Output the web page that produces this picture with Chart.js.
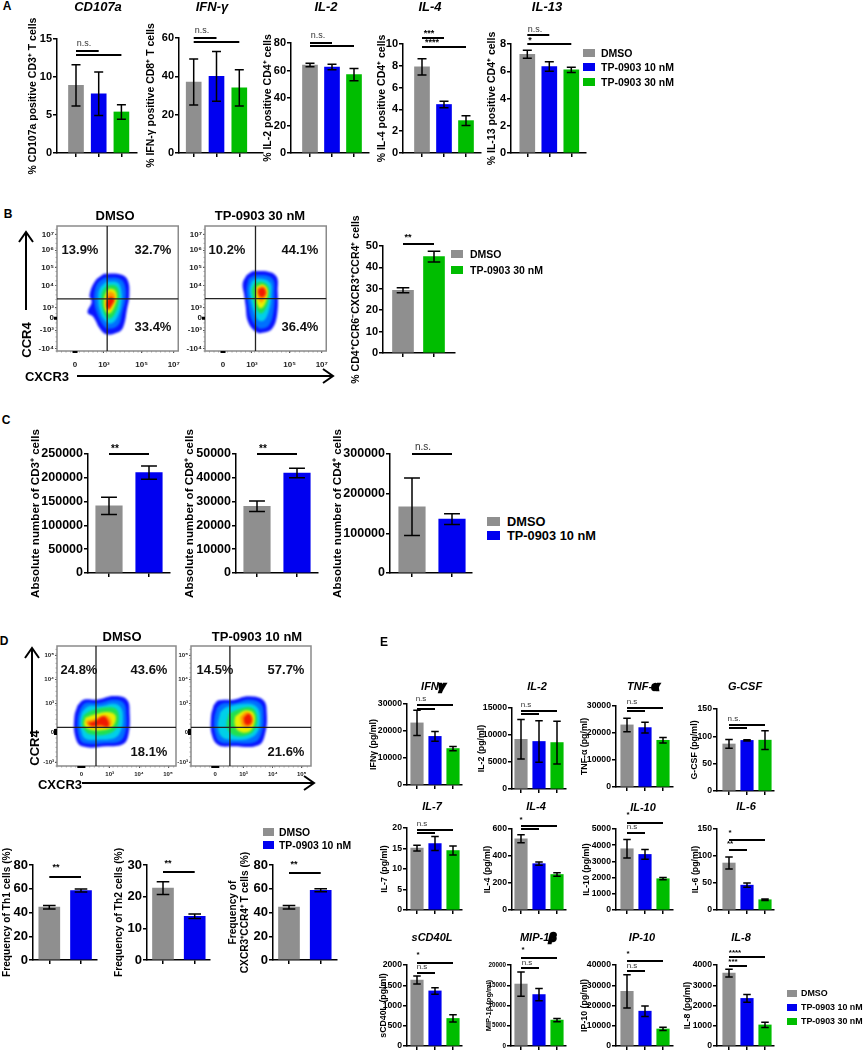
<!DOCTYPE html>
<html>
<head>
<meta charset="utf-8">
<title>TP-0903 panels</title>
<script src="https://cdn.jsdelivr.net/npm/chart.js@4"></script>
<style>
html, body { margin: 0; background: #fff; }
#stage { position: relative; width: 863px; height: 1050px; overflow: hidden; font-family: "Liberation Sans", Arial, sans-serif; color: #000; }
#stage canvas { position: absolute; }
.t { position: absolute; transform: translate(-50%, -50%); white-space: nowrap; font-weight: bold; }
.l { position: absolute; transform: translateY(-50%); white-space: nowrap; font-weight: bold; }
.sq { position: absolute; }
.blob { -webkit-text-stroke: 2.5px #000; }
svg { position: absolute; left: 0; top: 0; }
</style>
</head>
<body>
<div id="stage"></div>
<script>
/* ── Colours and group names ───────────────────────────────────────── */
const GRAY = '#8f8f8f', BLUE = '#0000f0', GREEN = '#00bd00';
const threeColors = [GRAY, BLUE, GREEN];
const tenColors = [GRAY, BLUE];
const thirtyColors = [GRAY, GREEN];
const threeGroups = ['DMSO', 'TP-0903 10 nM', 'TP-0903 30 nM'];
const tenGroups = ['DMSO', 'TP-0903 10 nM'];
const thirtyGroups = ['DMSO', 'TP-0903 30 nM'];

/* ── Panel A values ────────────────────────────────────────────────── */
const cd107aMeans = [8.9, 7.8, 5.4],   cd107aErrors = [2.7, 2.85, 0.95];
const ifnAMeans = [37, 40, 34],        ifnAErrors = [12, 13, 9.5];
const il2AMeans = [64, 62.5, 57],      il2AErrors = [1.2, 2, 4.5];
const il4AMeans = [7.9, 4.45, 2.97],   il4AErrors = [0.75, 0.3, 0.45];
const il13AMeans = [7.25, 6.35, 6.1],  il13AErrors = [0.3, 0.35, 0.2];

/* ── Panel B values ────────────────────────────────────────────────── */
const ccr4BMeans = [29.3, 45],         ccr4BErrors = [1.2, 2.5];

/* ── Panel C values ────────────────────────────────────────────────── */
const cd3Means = [141000, 211000],     cd3Errors = [18000, 14000];
const cd8Means = [28000, 42000],       cd8Errors = [2200, 2000];
const cd4Means = [167000, 136000],     cd4Errors = [72500, 13500];

/* ── Panel D values ────────────────────────────────────────────────── */
const th1Means = [44.5, 58.5],         th1Errors = [1.5, 1.3];
const th2Means = [22.7, 13.8],         th2Errors = [2, 0.7];
const cxcr3Means = [44.5, 58.7],       cxcr3Errors = [1.5, 1.3];

/* ── Panel E values ────────────────────────────────────────────────── */
const ifnEMeans = [23000, 18000, 13500],   ifnEErrors = [4700, 1800, 800];
const il2EMeans = [9200, 8800, 8600],      il2EErrors = [3650, 3850, 3950];
const tnfMeans = [23000, 22000, 17300],    tnfErrors = [2500, 2000, 1000];
const gcsfMeans = [86, 92.5, 93],          gcsfErrors = [8, 1.2, 17];
const il7Means = [15.1, 16.2, 14.5],       il7Errors = [0.7, 1.7, 1.1];
const il4EMeans = [528, 343, 263],         il4EErrors = [30, 12, 13];
const il10Means = [3780, 3430, 1930],      il10Errors = [570, 300, 70];
const il6Means = [87, 46, 19],             il6Errors = [11, 4, 1.5];
const cd40Means = [1630, 1360, 680],       cd40Errors = [100, 80, 90];
const mipMeans = [15300, 12700, 6400],     mipErrors = [3000, 1500, 400];
const ip10Means = [27000, 17200, 8400],    ip10Errors = [8200, 2600, 800];
const il8Means = [3600, 2350, 1040],       il8Errors = [190, 190, 130];

/* ── Flow plots: axis ticks (instrument channels) ──────────────────── */
const flowBXTicks = [56, 146, 263, 363];
const flowBXLabels = ['0', '10³', '10⁵', '10⁷'];
const flowBYTicks = [349, 302, 249, 195, 130, 98, 62, 7];
const flowBYLabels = ['10⁷', '10⁶', '10⁵', '10⁴', '10³', '0', '-10³', '-10⁴'];
const flowDXTicks = [73, 158, 246, 333];
const flowDXLabels = ['0', '10³', '10⁴', '10⁵'];
const flowDYTicks = [332, 260, 188, 102, 12];
const flowDYLabels = ['10⁵', '10⁴', '10³', '0', '-10³'];

/* density levels, outermost first */
const densityColors = ['#0a14ff', '#0070ff', '#00d0e8', '#20e050', '#e8f000', '#ff9a00', '#f01800'];

const flowB1 = [
  [[146,231],[198,229],[220,212],[225,167],[218,127],[206,72],[188,55],[153,50],[133,67],[113,102],[95,115],[108,147],[101,167],[118,209]],
  [[148,219],[193,217],[210,199],[213,157],[203,117],[190,77],[158,67],[140,82],[123,117],[116,147],[118,182],[128,205]],
  [[153,207],[188,205],[200,182],[200,142],[188,102],[168,82],[148,92],[133,122],[128,157],[133,187]],
  [[158,197],[183,195],[193,172],[190,137],[173,102],[156,99],[143,122],[138,157],[143,182]],
  [[163,187],[180,182],[186,162],[178,132],[163,112],[150,122],[146,152],[153,175]],
  [[163,179],[178,172],[180,155],[170,132],[158,122],[152,142],[154,167]],
  [[166,162],[178,155],[173,142],[160,125],[154,137],[158,155]]
];
const flowB2 = [
  [[129,227],[154,239],[219,227],[226,177],[224,107],[209,67],[184,55],[159,57],[134,87],[126,137],[122,167],[117,202]],
  [[136,217],[159,227],[209,217],[216,172],[212,112],[199,77],[179,67],[162,72],[144,97],[134,142],[129,182]],
  [[146,209],[164,217],[202,205],[206,167],[199,122],[184,92],[166,92],[152,117],[142,157],[139,187]],
  [[154,202],[174,207],[196,195],[199,162],[189,127],[174,112],[159,127],[149,162],[146,182]],
  [[159,192],[179,199],[194,185],[192,157],[181,132],[169,129],[159,157]],
  [[162,187],[179,195],[191,179],[186,157],[174,145],[164,162]],
  [[166,185],[181,189],[189,175],[182,162],[172,162],[166,172]]
];
const flowD1 = [
  [[62,182],[80,199],[120,199],[170,210],[210,199],[218,157],[215,97],[200,67],[150,59],[75,59],[55,87],[52,147]],
  [[70,172],[85,189],[125,189],[170,199],[200,189],[208,152],[205,102],[190,75],[150,69],[80,69],[65,92],[62,142]],
  [[75,162],[95,179],[130,179],[170,187],[192,175],[198,142],[192,107],[175,85],[130,79],[85,82],[72,107],[70,137]],
  [[80,152],[105,167],[170,175],[185,157],[180,117],[155,97],[100,95],[80,112],[75,132]],
  [[85,145],[115,155],[150,162],[175,152],[170,122],[145,109],[100,109],[82,122]],
  [[85,135],[115,142],[145,152],[162,139],[160,119],[130,115],[98,117]],
  [[92,129],[115,135],[140,149],[155,132],[152,117],[130,122],[105,120]]
];
const flowD2 = [
  [[68,182],[83,197],[128,199],[173,209],[218,197],[228,157],[223,97],[203,62],[128,59],[83,62],[63,92],[60,147]],
  [[78,175],[93,187],[133,189],[173,199],[210,187],[218,152],[213,102],[193,72],[128,69],[88,72],[73,97],[70,142]],
  [[88,162],[108,177],[173,187],[200,175],[208,142],[200,102],[173,82],[123,79],[93,87],[81,117]],
  [[113,157],[148,172],[183,175],[198,152],[193,112],[168,92],[128,92],[108,117]],
  [[133,149],[163,167],[188,159],[190,127],[173,102],[143,105],[131,127]],
  [[148,147],[166,162],[183,152],[185,129],[170,115],[153,122]],
  [[158,145],[173,157],[183,142],[178,125],[163,125]]
];

const FONT = '"Liberation Sans", Arial, sans-serif';
const stage = document.getElementById('stage');

function addText(cls, text, x, y, size, extra) {
  const el = document.createElement('div');
  el.className = cls;
  el.innerHTML = text;
  el.style.left = x + 'px';
  el.style.top = y + 'px';
  el.style.fontSize = size + 'px';
  if (extra) el.style.cssText += extra;
  stage.appendChild(el);
}

function addCanvas(left, top, w, h) {
  const c = document.createElement('canvas');
  c.width = w; c.height = h;
  c.style.left = left + 'px';
  c.style.top = top + 'px';
  c.style.width = w + 'px';
  c.style.height = h + 'px';
  stage.appendChild(c);
  return c;
}

/* ── Small bar panel ───────────────────────────────────────────────── */
function barPanel(p) {
  const titleLines = Array.isArray(p.title) ? p.title.length : 1;
  const lh = p.titleSize * 1.2;
  const left = Math.round(p.titleX - titleLines * lh / 2);
  const topPad = 50, bottomPad = 50;
  const top = p.top - topPad;
  const w = p.x1 - left + 2;
  const h = p.bot - top + bottomPad;
  const cv = addCanvas(left, top, w, h);
  const colors = p.means.length === 3 ? threeColors : (p.green ? thirtyColors : tenColors);

  const marks = {
    id: 'marks',
    afterDatasetsDraw(chart) {
      const { ctx, scales: { x, y } } = chart;
      ctx.save();
      ctx.strokeStyle = '#000';
      ctx.lineWidth = 1.5;
      const cap = p.bw * 0.3;
      p.means.forEach((m, i) => {
        const px = x.getPixelForValue(i);
        const hi = y.getPixelForValue(m + p.errs[i]);
        const lo = y.getPixelForValue(m - p.errs[i]);
        ctx.beginPath();
        ctx.moveTo(px, hi); ctx.lineTo(px, lo);
        ctx.moveTo(px - cap, hi); ctx.lineTo(px + cap, hi);
        ctx.moveTo(px - cap, lo); ctx.lineTo(px + cap, lo);
        ctx.stroke();
      });
      ctx.lineWidth = 2;
      (p.lines || []).forEach(([a, b, py]) => {
        ctx.beginPath();
        ctx.moveTo(x.getPixelForValue(a), py - top);
        ctx.lineTo(x.getPixelForValue(b), py - top);
        ctx.stroke();
      });
      ctx.textAlign = 'center';
      ctx.textBaseline = 'middle';
      (p.marks || []).forEach(([s, mx, my]) => {
        const stars = s.indexOf('*') >= 0;
        ctx.fillStyle = stars ? '#000' : '#333';
        ctx.font = (stars ? 'bold ' : '') + (p.markSize || 9) + 'px ' + FONT;
        ctx.fillText(s, mx - left, my - top);
      });
      ctx.restore();
    }
  };

  new Chart(cv.getContext('2d'), {
    type: 'bar',
    data: {
      datasets: [{
        data: p.means.map((v, i) => ({ x: i, y: v })),
        backgroundColor: colors,
        barThickness: p.bw
      }]
    },
    plugins: [marks],
    options: {
      responsive: false,
      animation: false,
      devicePixelRatio: 1,
      layout: { autoPadding: false, padding: { top: topPad, right: w - (p.x1 - left), left: 0, bottom: 0 } },
      plugins: { legend: { display: false }, tooltip: { enabled: false } },
      scales: {
        x: {
          type: 'linear',
          offset: false,
          min: -(p.c0 - p.x0) / p.sp,
          max: (p.x1 - p.c0) / p.sp,
          afterFit: s => { s.height = bottomPad; },
          afterBuildTicks: s => { s.ticks = p.means.map((_, i) => ({ value: i })); },
          grid: { offset: false, drawOnChartArea: false, color: '#000', lineWidth: 1.5, tickLength: 4 },
          border: { color: '#000', width: 1.5 },
          ticks: { display: false, autoSkip: false }
        },
        y: {
          min: 0,
          max: p.max,
          afterFit: s => { s.width = p.x0 - left; },
          grid: { drawOnChartArea: false, color: '#000', lineWidth: 1.5, tickLength: 4 },
          border: { color: '#000', width: 1.5 },
          ticks: { stepSize: p.step, color: '#000', padding: 1, callback: v => String(v), font: { family: FONT, weight: 'bold', size: p.tickSize } },
          title: { display: true, text: p.title, color: '#000', padding: 0, font: { family: FONT, weight: 'bold', size: p.titleSize } }
        }
      }
    }
  });
}

/* ── Flow cytometry density plot ───────────────────────────────────── */
function flowPanel(f) {
  const left = f.x0 - 24, top = f.y0 - 6;
  const w = f.x1 - left + 4, h = f.y1 - top + f.below;
  const cv = addCanvas(left, top, w, h);

  const overlay = {
    id: 'overlay',
    beforeDatasetsDraw(chart) { chart.ctx.filter = 'blur(1px)'; },
    afterDatasetsDraw(chart) {
      const { ctx, chartArea: a, scales: { x, y } } = chart;
      ctx.filter = 'none';
      ctx.save();
      ctx.strokeStyle = '#8a8a8a';
      ctx.lineWidth = 1.5;
      ctx.strokeRect(a.left, a.top, a.right - a.left, a.bottom - a.top);

      // comb of minor ticks along the bottom and left edges
      ctx.lineWidth = 0.8;
      ctx.beginPath();
      for (let v = 0; v <= f.xMax; v += 14) {
        const px = x.getPixelForValue(v);
        ctx.moveTo(px, a.bottom); ctx.lineTo(px, a.bottom + 1.5);
      }
      for (let v = 0; v <= f.yMax; v += 14) {
        const py = y.getPixelForValue(v);
        ctx.moveTo(a.left, py); ctx.lineTo(a.left - 1.5, py);
      }
      ctx.stroke();

      // events piled up on the zero channels
      ctx.fillStyle = '#000';
      const zeroX = x.getPixelForValue(f.xTicks[0]);
      const zeroY = y.getPixelForValue(f.yTicks[f.yLabels.indexOf('0')]);
      ctx.fillRect(a.left - 3, zeroY - f.pile, 3, f.pile * 2);
      ctx.fillRect(zeroX - f.pile - 1, a.bottom, f.pile * 2 + 2, 2);

      ctx.strokeStyle = '#222';
      ctx.lineWidth = 1.3;
      ctx.beginPath();
      ctx.moveTo(x.getPixelForValue(f.gateX), a.top);
      ctx.lineTo(x.getPixelForValue(f.gateX), a.bottom);
      ctx.moveTo(a.left, y.getPixelForValue(f.gateY));
      ctx.lineTo(a.right, y.getPixelForValue(f.gateY));
      ctx.stroke();
      ctx.fillStyle = '#111';
      ctx.font = 'bold 13px ' + FONT;
      ctx.textAlign = 'center';
      ctx.textBaseline = 'middle';
      f.pct.forEach(([s, mx, my]) => ctx.fillText(s, mx - left, my - top));
      ctx.restore();
    }
  };

  new Chart(cv.getContext('2d'), {
    type: 'scatter',
    data: {
      datasets: f.levels.map((pts, i) => ({
        data: pts.concat([pts[0]]).map(([x, y]) => ({ x, y })),
        showLine: true,
        fill: 'shape',
        tension: 0.4,
        pointRadius: 0,
        borderWidth: 0,
        backgroundColor: densityColors[i],
        borderColor: densityColors[i],
        order: -i
      }))
    },
    plugins: [overlay],
    options: {
      indexAxis: 'y',
      responsive: false,
      animation: false,
      devicePixelRatio: 1,
      layout: { autoPadding: false, padding: { top: 6, right: 4, left: 0, bottom: 0 } },
      plugins: { legend: { display: false }, tooltip: { enabled: false } },
      scales: {
        x: {
          type: 'linear', min: 0, max: f.xMax,
          afterFit: s => { s.height = f.below; },
          afterBuildTicks: s => { s.ticks = f.xTicks.map(v => ({ value: v })); },
          grid: { drawOnChartArea: false, color: '#555', lineWidth: 1, tickLength: 2 },
          border: { display: false },
          ticks: { autoSkip: false, maxRotation: 0, padding: f.pad, color: '#222', callback: (v, i) => f.xLabels[i], font: { family: FONT, weight: 'bold', size: f.tick } }
        },
        y: {
          type: 'linear', min: 0, max: f.yMax,
          afterFit: s => { s.width = 24; },
          afterBuildTicks: s => { s.ticks = f.yTicks.map(v => ({ value: v })); },
          grid: { drawOnChartArea: false, color: '#555', lineWidth: 1, tickLength: 2 },
          border: { display: false },
          ticks: { autoSkip: false, padding: 1, color: '#222', callback: (v, i) => f.yLabels[i], font: { family: FONT, weight: 'bold', size: f.tick } }
        }
      }
    }
  });
}

/* ── Panel A ───────────────────────────────────────────────────────── */
const aBase = { titleSize: 10.5, tickSize: 11, bw: 15, bot: 153, markSize: 9 };
barPanel({ ...aBase, title: '% CD107a positive CD3⁺ T cells', titleX: 33, means: cd107aMeans, errs: cd107aErrors, x0: 57, x1: 137, top: 39, c0: 76, sp: 22.7, max: 15, step: 5,
  lines: [[0, 1, 51], [0, 2, 55]], marks: [['n.s.', 84, 44]] });
barPanel({ ...aBase, title: '% IFN-γ positive CD8⁺ T cells', titleX: 151, means: ifnAMeans, errs: ifnAErrors, x0: 179, x1: 263, top: 38, c0: 193.7, sp: 22.8, max: 60, step: 20,
  lines: [[0, 1, 38], [0, 2, 42]], marks: [['n.s.', 202, 31]] });
barPanel({ ...aBase, title: '% IL-2 positive CD4⁺ cells', titleX: 268, means: il2AMeans, errs: il2AErrors, x0: 291, x1: 369, top: 43, c0: 310, sp: 22, max: 80, step: 20,
  lines: [[0, 1, 43], [0, 2, 46]], marks: [['n.s.', 318, 36]] });
barPanel({ ...aBase, title: '% IL-4 positive CD4⁺ cells', titleX: 382, means: il4AMeans, errs: il4AErrors, x0: 403, x1: 481, top: 44, c0: 422, sp: 22, max: 10, step: 2,
  lines: [[0, 1, 38], [0, 2, 47]], marks: [['***', 429, 34], ['****', 432, 43]] });
barPanel({ ...aBase, title: '% IL-13 positive CD4⁺ cells', titleX: 492, means: il13AMeans, errs: il13AErrors, x0: 511, x1: 586, top: 44, c0: 527.3, sp: 22, max: 8, step: 2,
  lines: [[0, 1, 35], [0, 2, 44]], marks: [['n.s.', 535, 30], ['*', 530, 41]] });

/* ── Panel B bar ───────────────────────────────────────────────────── */
barPanel({ title: '% CD4⁺CCR6⁻CXCR3⁺CCR4⁺ cells', titleX: 356, titleSize: 10.5, tickSize: 11, green: true, means: ccr4BMeans, errs: ccr4BErrors, x0: 383, x1: 455, top: 246, bot: 353, c0: 403, sp: 31, bw: 21, max: 50, step: 10,
  lines: [[0, 1, 244]], marks: [['**', 408, 238]] });

/* ── Panel C ───────────────────────────────────────────────────────── */
const cBase = { titleSize: 11.6, tickSize: 12.5, bw: 26.5, top: 454, bot: 573, sp: 40, markSize: 10 };
barPanel({ ...cBase, title: 'Absolute number of CD3⁺ cells', titleX: 36, means: cd3Means, errs: cd3Errors, x0: 88, x1: 170, c0: 109, max: 250000, step: 50000,
  lines: [[0, 1, 454]], marks: [['**', 115, 449]] });
barPanel({ ...cBase, title: 'Absolute number of CD8⁺ cells', titleX: 190, means: cd8Means, errs: cd8Errors, x0: 236, x1: 318, c0: 257, max: 50000, step: 10000,
  lines: [[0, 1, 454]], marks: [['**', 263, 449]] });
barPanel({ ...cBase, title: 'Absolute number of CD4⁺ cells', titleX: 338, means: cd4Means, errs: cd4Errors, x0: 390, x1: 472, c0: 412, max: 300000, step: 100000,
  lines: [[0, 1, 454]], marks: [['n.s.', 423, 447]] });

/* ── Panel D bars ──────────────────────────────────────────────────── */
const dBase = { titleSize: 10.2, tickSize: 13, bw: 21, top: 865, bot: 960, sp: 31.7, markSize: 9 };
barPanel({ ...dBase, title: 'Frequency of Th1 cells (%)', titleX: 7, means: th1Means, errs: th1Errors, x0: 33, x1: 97, c0: 49.3, max: 80, step: 20,
  lines: [[0, 1, 877]], marks: [['**', 56, 868]] });
barPanel({ ...dBase, title: 'Frequency of Th2 cells (%)', titleX: 119, means: th2Means, errs: th2Errors, x0: 147, x1: 210, c0: 163, max: 30, step: 10,
  lines: [[0, 1, 872]], marks: [['**', 168, 864]] });
barPanel({ ...dBase, title: ['Frequency of', 'CXCR3⁺CCR4⁺ T cells (%)'], titleX: 239, means: cxcr3Means, errs: cxcr3Errors, x0: 273, x1: 337, c0: 289, max: 80, step: 20,
  lines: [[0, 1, 873]], marks: [['**', 294, 865]] });

/* ── Panel E ───────────────────────────────────────────────────────── */
const eBase = { titleSize: 8.8, tickSize: 8.7, bw: 12.5, sp: 18, markSize: 8 };
barPanel({ ...eBase, title: 'IFNγ (pg/ml)', titleX: 373, means: ifnEMeans, errs: ifnEErrors, x0: 407, x1: 462, top: 704, bot: 785, c0: 417, max: 30000, step: 10000,
  lines: [[0, 2, 705], [0, 1, 709]], marks: [['n.s', 421, 699]] });
barPanel({ ...eBase, title: 'IL-2 (pg/ml)', titleX: 481, means: il2EMeans, errs: il2EErrors, x0: 512, x1: 566, top: 708, bot: 789, c0: 521, max: 15000, step: 5000,
  lines: [[0, 2, 711], [0, 1, 714]], marks: [['n.s', 526, 705]] });
barPanel({ ...eBase, title: 'TNF-α (pg/ml)', titleX: 584, means: tnfMeans, errs: tnfErrors, x0: 616, x1: 673, top: 706, bot: 787, c0: 627, max: 30000, step: 10000,
  lines: [[0, 2, 708], [0, 1, 711]], marks: [['n.s', 632, 702]] });
barPanel({ ...eBase, title: 'G-CSF (pg/ml)', titleX: 694, means: gcsfMeans, errs: gcsfErrors, x0: 717, x1: 774, top: 709, bot: 791, c0: 729, max: 150, step: 50,
  lines: [[0, 2, 725], [0, 1, 728]], marks: [['n.s.', 734, 719]] });

barPanel({ ...eBase, title: 'IL-7 (pg/ml)', titleX: 384, means: il7Means, errs: il7Errors, x0: 407, x1: 462, top: 828, bot: 910, c0: 417, max: 20, step: 5,
  lines: [[0, 2, 830], [0, 1, 833]], marks: [['n.s', 422, 824]] });
barPanel({ ...eBase, title: 'IL-4 (pg/ml)', titleX: 487, means: il4EMeans, errs: il4EErrors, x0: 512, x1: 566, top: 829, bot: 910, c0: 521, max: 600, step: 200,
  lines: [[0, 2, 826], [0, 1, 829]], marks: [['*', 521, 820]] });
barPanel({ ...eBase, title: 'IL-10 (pg/ml)', titleX: 586, means: il10Means, errs: il10Errors, x0: 616, x1: 673, top: 829, bot: 910, c0: 627, max: 5000, step: 1000,
  lines: [[0, 2, 823], [0, 1, 833]], marks: [['*', 628, 815], ['n.s', 632, 827]] });
barPanel({ ...eBase, title: 'IL-6 (pg/ml)', titleX: 695, means: il6Means, errs: il6Errors, x0: 717, x1: 774, top: 829, bot: 910, c0: 729, max: 150, step: 50,
  lines: [[0, 2, 840], [0, 1, 850]], marks: [['*', 730, 833], ['**', 730, 844]] });

barPanel({ ...eBase, title: 'sCD40L (pg/ml)', titleX: 383, means: cd40Means, errs: cd40Errors, x0: 407, x1: 462, top: 965, bot: 1046, c0: 417, max: 2000, step: 500,
  lines: [[0, 2, 963], [0, 1, 973]], marks: [['*', 418, 955], ['n.s', 422, 967]] });
barPanel({ ...eBase, tickSize: 6.3, titleSize: 7.5, title: 'MIP-1β (pg/ml)', titleX: 488, means: mipMeans, errs: mipErrors, x0: 511, x1: 566, top: 965, bot: 1046, c0: 521, max: 20000, step: 5000,
  lines: [[0, 2, 958], [0, 1, 968]], marks: [['*', 523, 950], ['n.s', 527, 963]] });
barPanel({ ...eBase, title: 'IP-10 (pg/ml)', titleX: 584, means: ip10Means, errs: ip10Errors, x0: 616, x1: 673, top: 965, bot: 1046, c0: 627, max: 40000, step: 10000,
  lines: [[0, 2, 961], [0, 1, 971]], marks: [['*', 628, 954], ['n.s', 632, 966]] });
barPanel({ ...eBase, title: 'IL-8 (pg/ml)', titleX: 687, means: il8Means, errs: il8Errors, x0: 717, x1: 774, top: 965, bot: 1046, c0: 729, max: 4000, step: 1000,
  lines: [[0, 2, 957], [0, 1, 966]], marks: [['****', 735, 953], ['***', 733, 962]] });

/* ── Flow plots ────────────────────────────────────────────────────── */
const flowB = { y0: 226, y1: 351, xMax: 377, yMax: 374, below: 26, pad: 7, tick: 8, pile: 1.5,
  xTicks: flowBXTicks, xLabels: flowBXLabels, yTicks: flowBYTicks, yLabels: flowBYLabels };
flowPanel({ ...flowB, x0: 57, x1: 183, gateX: 156, gateY: 156, levels: flowB1,
  pct: [['13.9%', 80, 250], ['32.7%', 153, 250], ['33.4%', 153, 327]] });
flowPanel({ ...flowB, x0: 205, x1: 331, gateX: 157, gateY: 157, levels: flowB2,
  pct: [['10.2%', 227, 250], ['44.1%', 300, 250], ['36.4%', 300, 327]] });
const flowD = { y0: 646, y1: 766, yMax: 360, below: 16, pad: 3, tick: 6, pile: 3,
  xTicks: flowDXTicks, xLabels: flowDXLabels, yTicks: flowDYTicks, yLabels: flowDYLabels };
flowPanel({ ...flowD, x0: 57, x1: 176, xMax: 357, gateX: 117, gateY: 116, levels: flowD1,
  pct: [['24.8%', 79, 670], ['43.6%', 149, 670], ['18.1%', 149, 752]] });
flowPanel({ ...flowD, x0: 191, x1: 311, xMax: 361, gateX: 117, gateY: 116, levels: flowD2,
  pct: [['14.5%', 215, 670], ['57.7%', 286, 670], ['21.6%', 286, 752]] });

/* ── Panel letters, headings ───────────────────────────────────────── */
[['A', 7, 6], ['B', 8, 214], ['C', 6, 420], ['D', 4, 641], ['E', 384, 642]].forEach(([s, x, y]) => addText('t', s, x, y, 12));

const aTitles = [['CD107a', 98], ['IFN-γ', 212], ['IL-2', 326], ['IL-4', 430], ['IL-13', 547]];
aTitles.forEach(([s, x]) => addText('t', s, x, 5.5, 13, 'font-style:italic;'));

const eTitles = [
  ['IFN<span class="blob">γ</span>', 433, 686], ['IL-2', 537, 686], ['TNF-<span class="blob">α</span>', 643, 686], ['G-CSF', 745, 686],
  ['IL-7', 432, 806], ['IL-4', 536, 806], ['IL-10', 643, 807], ['IL-6', 746, 806],
  ['sCD40L', 432, 937], ['MIP-1<span class="blob">β</span>', 538, 937], ['IP-10', 642, 937], ['IL-8', 741, 937]
];
eTitles.forEach(([s, x, y]) => addText('t', s, x, y, 11, 'font-style:italic;'));

[['DMSO', 115, 215], ['TP-0903 30 nM', 260, 215], ['DMSO', 122, 636], ['TP-0903 10 nM', 257, 636]].forEach(([s, x, y]) => addText('t', s, x, y, 13));

addText('t', 'CCR4', 26, 340, 13, 'transform:translate(-50%,-50%) rotate(-90deg);');
addText('t', 'CXCR3', 47, 376, 13);
addText('t', 'CCR4', 34, 748, 13, 'transform:translate(-50%,-50%) rotate(-90deg);');
addText('t', 'CXCR3', 60, 784, 13);

/* ── Legends ───────────────────────────────────────────────────────── */
function legend(names, colors, sqX, textX, ys, sqW, sqH, size) {
  names.forEach((name, i) => {
    const sq = document.createElement('div');
    sq.className = 'sq';
    sq.style.cssText = `left:${sqX}px;top:${ys[i] - sqH / 2}px;width:${sqW}px;height:${sqH}px;background:${colors[i]};`;
    stage.appendChild(sq);
    addText('l', name, textX, ys[i], size);
  });
}
legend(threeGroups, threeColors, 583, 601, [53, 67, 82], 12, 8, 10.5);
legend(thirtyGroups, thirtyColors, 451, 470, [254, 270], 12, 8, 10.5);
legend(tenGroups, tenColors, 487, 507, [521, 535], 13, 9, 12.8);
legend(tenGroups, tenColors, 263, 279, [832, 845], 11, 8, 10.4);
legend(threeGroups, threeColors, 787, 801, [993, 1007, 1021], 10, 7, 8.9);

/* ── Arrows ────────────────────────────────────────────────────────── */
const arrows = [[26, 310, 26, 232], [77, 376, 333, 376], [32, 737, 32, 648], [82, 783, 314, 783]];
const svgNS = 'http://www.w3.org/2000/svg';
const svg = document.createElementNS(svgNS, 'svg');
svg.setAttribute('width', 863);
svg.setAttribute('height', 1050);
arrows.forEach(([x1, y1, x2, y2]) => {
  const vertical = x1 === x2;
  const d = `M${x1} ${y1}L${x2} ${y2}` + (vertical
    ? `M${x2 - 7} ${y2 + 10}L${x2} ${y2}L${x2 + 7} ${y2 + 10}`
    : `M${x2 - 10} ${y2 - 7}L${x2} ${y2}L${x2 - 10} ${y2 + 7}`);
  const path = document.createElementNS(svgNS, 'path');
  path.setAttribute('d', d);
  path.setAttribute('fill', 'none');
  path.setAttribute('stroke', '#000');
  path.setAttribute('stroke-width', 2);
  svg.appendChild(path);
});
stage.appendChild(svg);
</script>
</body>
</html>
